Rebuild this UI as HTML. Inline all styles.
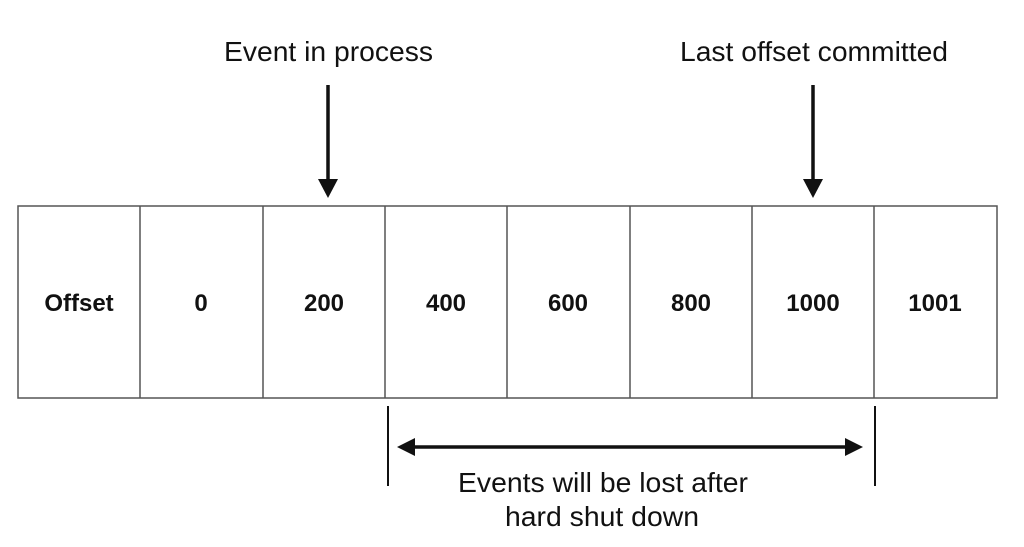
<!DOCTYPE html>
<html><head><style>body{margin:0;background:#fff}svg{display:block}</style></head><body>
<svg width="1024" height="547" viewBox="0 0 1024 547" xmlns="http://www.w3.org/2000/svg" font-family="Liberation Sans, Arial, sans-serif">
<rect width="1024" height="547" fill="#fff"/>
<g fill="#111" font-size="28">
<text x="224" y="61" textLength="209" lengthAdjust="spacingAndGlyphs">Event in process</text>
<text x="680" y="61" textLength="268" lengthAdjust="spacingAndGlyphs">Last offset committed</text>
<text x="458" y="492" textLength="290" lengthAdjust="spacingAndGlyphs">Events will be lost after</text>
<text x="505" y="526" textLength="194" lengthAdjust="spacingAndGlyphs">hard shut down</text>
</g>
<g stroke="#111" stroke-width="3.5">
<line x1="328" y1="85" x2="328" y2="182"/>
<line x1="813" y1="85" x2="813" y2="182"/>
<line x1="412" y1="447" x2="848" y2="447"/>
</g>
<g fill="#111">
<polygon points="318,179 338,179 328,198"/>
<polygon points="803,179 823,179 813,198"/>
<polygon points="397,447 415,438 415,456"/>
<polygon points="863,447 845,438 845,456"/>
</g>
<g stroke="#111" stroke-width="2">
<line x1="388" y1="406" x2="388" y2="486"/>
<line x1="875" y1="406" x2="875" y2="486"/>
</g>
<g stroke="#555" stroke-width="1.5" fill="none">
<rect x="18" y="206" width="979" height="192"/>
<line x1="140" y1="206" x2="140" y2="398"/>
<line x1="263" y1="206" x2="263" y2="398"/>
<line x1="385" y1="206" x2="385" y2="398"/>
<line x1="507" y1="206" x2="507" y2="398"/>
<line x1="630" y1="206" x2="630" y2="398"/>
<line x1="752" y1="206" x2="752" y2="398"/>
<line x1="874" y1="206" x2="874" y2="398"/>
</g>
<g fill="#111" font-size="24" font-weight="bold" text-anchor="middle">
<text x="79" y="311">Offset</text>
<text x="201" y="311">0</text>
<text x="324" y="311">200</text>
<text x="446" y="311">400</text>
<text x="568" y="311">600</text>
<text x="691" y="311">800</text>
<text x="813" y="311">1000</text>
<text x="935" y="311">1001</text>
</g>
</svg>
</body></html>
